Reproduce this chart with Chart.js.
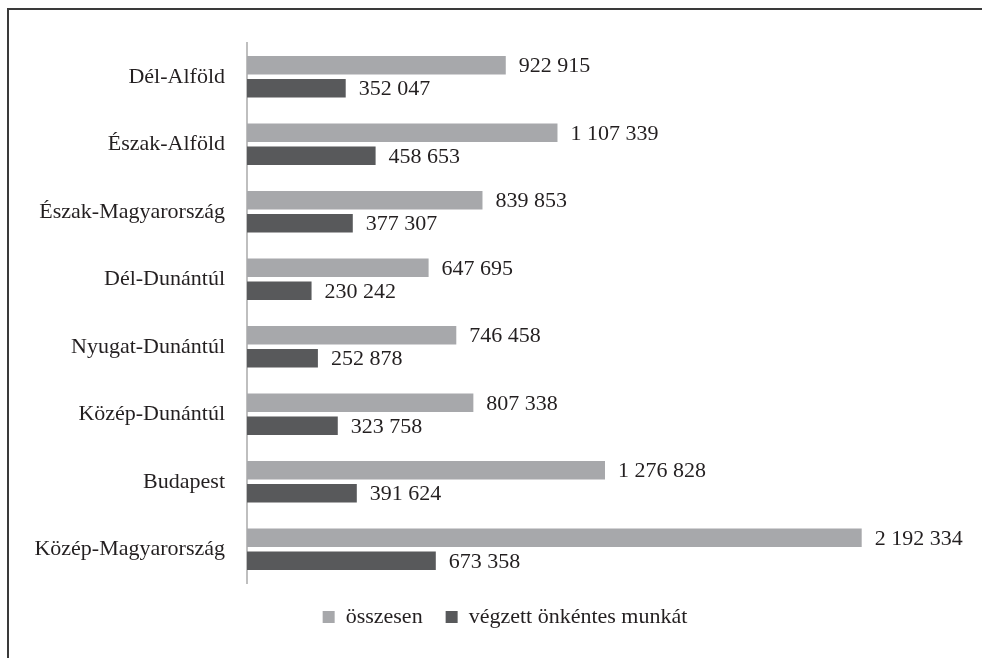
<!DOCTYPE html>
<html>
<head>
<meta charset="utf-8">
<script src="https://cdn.jsdelivr.net/npm/chart.js@4"></script>
<style>
  html, body { margin: 0; padding: 0; background: #fff; }
  #wrap { position: relative; width: 982px; height: 658px; }
  #frame {
    position: absolute; left: 7px; top: 8px; right: 0; bottom: 0;
    border-top: 2px solid #3a3a3a; border-left: 2px solid #3a3a3a;
    pointer-events: none;
  }
</style>
</head>
<body>
<div id="wrap">
  <canvas id="bar" width="982" height="658"></canvas>
  <div id="frame"></div>
</div>
<script>
var regions = ['Dél-Alföld', 'Észak-Alföld', 'Észak-Magyarország', 'Dél-Dunántúl',
               'Nyugat-Dunántúl', 'Közép-Dunántúl', 'Budapest', 'Közép-Magyarország'];
var osszesen = [922915, 1107339, 839853, 647695, 746458, 807338, 1276828, 2192334];
var vegzett = [352047, 458653, 377307, 230242, 252878, 323758, 391624, 673358];

var serif = 'Liberation Serif';

function fmt(v) {
  return String(v).replace(/\B(?=(\d{3})+(?!\d))/g, ' ');
}

// value labels at the end of each bar
var valueLabels = {
  id: 'valueLabels',
  afterDatasetsDraw: function(chart) {
    var ctx = chart.ctx;
    ctx.save();
    ctx.font = '22px "' + serif + '"';
    ctx.fillStyle = '#231f20';
    ctx.textBaseline = 'middle';
    ctx.textAlign = 'left';
    chart.data.datasets.forEach(function(ds, i) {
      chart.getDatasetMeta(i).data.forEach(function(bar, j) {
        ctx.fillText(fmt(ds.data[j]), bar.x + 13, bar.y + 1);
      });
    });
    ctx.restore();
  }
};

Chart.defaults.color = '#231f20';
Chart.defaults.font.family = serif;
Chart.defaults.font.size = 22;

var ctx = document.getElementById('bar').getContext('2d');
var myChart = new Chart(ctx, {
  type: 'bar',
  data: {
    labels: regions,
    datasets: [{
      label: 'összesen',
      data: osszesen,
      backgroundColor: '#a7a8ab',
      borderWidth: 0,
      categoryPercentage: 0.68,
      barPercentage: 0.8
    },
    {
      label: 'végzett önkéntes munkát',
      data: vegzett,
      backgroundColor: '#58595b',
      borderWidth: 0,
      categoryPercentage: 0.68,
      barPercentage: 0.8
    }]
  },
  options: {
    indexAxis: 'y',
    responsive: false,
    animation: false,
    layout: {
      padding: { top: 43, left: 34, right: 6, bottom: 20 }
    },
    plugins: {
      legend: {
        position: 'bottom',
        labels: {
          boxWidth: 12,
          boxHeight: 12,
          padding: 23,
          font: { size: 22 }
        }
      },
      tooltip: { enabled: false }
    },
    scales: {
      x: {
        display: false,
        min: 0,
        max: 2600000
      },
      y: {
        afterFit: function(scale) { scale.width = 213; },
        grid: { display: false, drawTicks: false },
        border: { display: true, color: '#bfbfbf', width: 2 },
        ticks: { padding: 22, font: { size: 22 } }
      }
    }
  },
  plugins: [valueLabels]
});
</script>
</body>
</html>
